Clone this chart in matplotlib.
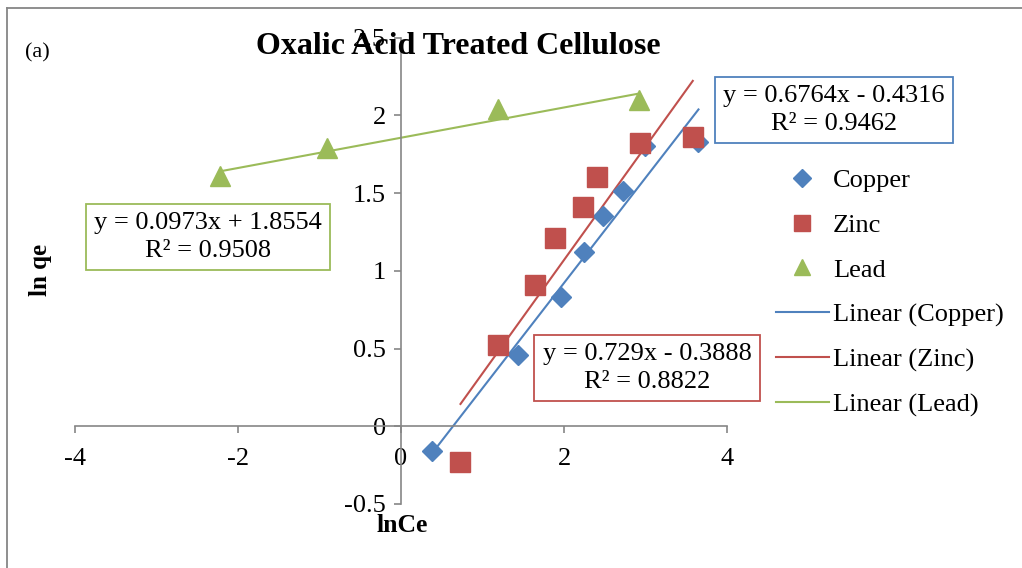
import numpy as np
import matplotlib
matplotlib.use("Agg")
import matplotlib.pyplot as plt
from matplotlib.lines import Line2D

plt.rcParams['font.family'] = ['Liberation Serif', 'DejaVu Serif']

# ---- data ----
copper_x = [0.38, 1.43, 1.96, 2.24, 2.48, 2.73, 2.99, 3.65]
copper_y = [-0.16, 0.46, 0.83, 1.12, 1.35, 1.51, 1.80, 1.83]
zinc_x = [0.73, 1.19, 1.65, 1.89, 2.23, 2.40, 2.93, 3.58]
zinc_y = [-0.23, 0.52, 0.91, 1.21, 1.41, 1.60, 1.82, 1.86]
lead_x = [-2.22, -0.91, 1.19, 2.92]
lead_y = [1.61, 1.79, 2.04, 2.10]

copper_fit = (0.6764, -0.4316)
zinc_fit = (0.729, -0.3888)
lead_fit = (0.0973, 1.8554)

copper_eq = "y = 0.6764x - 0.4316\nR² = 0.9462"
zinc_eq = "y = 0.729x - 0.3888\nR² = 0.8822"
lead_eq = "y = 0.0973x + 1.8554\nR² = 0.9508"

x_ticks = [-4, -2, 0, 2, 4]
y_ticks = [-0.5, 0, 0.5, 1, 1.5, 2, 2.5]

BLUE = '#4F81BD'
RED = '#C0504D'
GREEN = '#9BBB59'
GRAY = '#868686'

W, H = 1022, 568
fig = plt.figure(figsize=(W / 100, H / 100), dpi=100)

def fx(px):
    return px / W

def fy(py):
    return 1 - py / H

ax = fig.add_axes([fx(75), fy(504), (727 - 75) / W, (504 - 37.5) / H])
ax.set_xlim(-4, 4)
ax.set_ylim(-0.5, 2.5)

ax.plot(copper_x, copper_y, linestyle='none', marker='D', ms=10.5,
        color=BLUE, label='Copper', zorder=3)
ax.plot(zinc_x, zinc_y, linestyle='none', marker='s', ms=14,
        color=RED, label='Zinc', zorder=3)
ax.plot(lead_x, lead_y, linestyle='none', marker='^', ms=14,
        color=GREEN, label='Lead', zorder=3)

for xs, (m, b), c, name in [(copper_x, copper_fit, BLUE, 'Linear (Copper)'),
                            (zinc_x, zinc_fit, RED, 'Linear (Zinc)'),
                            (lead_x, lead_fit, GREEN, 'Linear (Lead)')]:
    xx = np.array([min(xs), max(xs)])
    ax.plot(xx, m * xx + b, color=c, lw=1.5, label=name, zorder=2)

for s in ['top', 'right']:
    ax.spines[s].set_visible(False)
ax.spines['left'].set_position(('data', 0))
ax.spines['bottom'].set_position(('data', 0))
for s in ['left', 'bottom']:
    ax.spines[s].set_color(GRAY)
    ax.spines[s].set_linewidth(1.2)

ax.set_xticks(x_ticks)
ax.set_xticklabels([f"{v:g}" for v in x_ticks])
ax.set_yticks(y_ticks)
ax.set_yticklabels([f"{v:g}" for v in y_ticks])
ax.tick_params(axis='both', direction='out', length=5, width=1.2,
               color=GRAY, labelsize=19, labelcolor='black')
ax.tick_params(axis='x', pad=11)
ax.tick_params(axis='y', pad=6)
ax.patch.set_visible(False)

handles, labels = ax.get_legend_handles_labels()
leg = ax.legend(handles, labels, loc='upper left', frameon=False,
                bbox_to_anchor=(fx(776), fy(169)), bbox_transform=fig.transFigure,
                borderpad=0, borderaxespad=0, handlelength=2.0,
                handletextpad=0.15, labelspacing=0.8, numpoints=1,
                markerscale=0.85, fontsize=19)

# equation boxes
for txt, (cx, cy), c in [(copper_eq, (834, 110), BLUE),
                         (zinc_eq, (647, 368), RED),
                         (lead_eq, (208, 237), GREEN)]:
    fig.text(fx(cx), fy(cy), txt, ha='center', va='center', fontsize=19,
             multialignment='center', linespacing=1.35,
             bbox=dict(boxstyle='square,pad=0.32', fc='white', ec=c, lw=1.3))

fig.text(fx(458), fy(46), "Oxalic Acid Treated Cellulose", ha='center',
         va='center', fontsize=23, fontweight='bold')
fig.text(fx(37), fy(53), "(a)", ha='center', va='center', fontsize=16)
fig.text(fx(40), fy(270), "ln qe", ha='center', va='center', fontsize=18,
         fontweight='bold', rotation=90)
fig.text(fx(402), fy(526), "lnCe", ha='center', va='center', fontsize=18.5,
         fontweight='bold')

# outer chart border
fig.add_artist(Line2D([fx(6.5), 1.0], [fy(7.5), fy(7.5)], color=GRAY, lw=1.3,
                      transform=fig.transFigure))
fig.add_artist(Line2D([fx(6.5), fx(6.5)], [fy(7.5), 0.0], color=GRAY, lw=1.3,
                      transform=fig.transFigure))

fig.savefig('out.png', dpi=100)
